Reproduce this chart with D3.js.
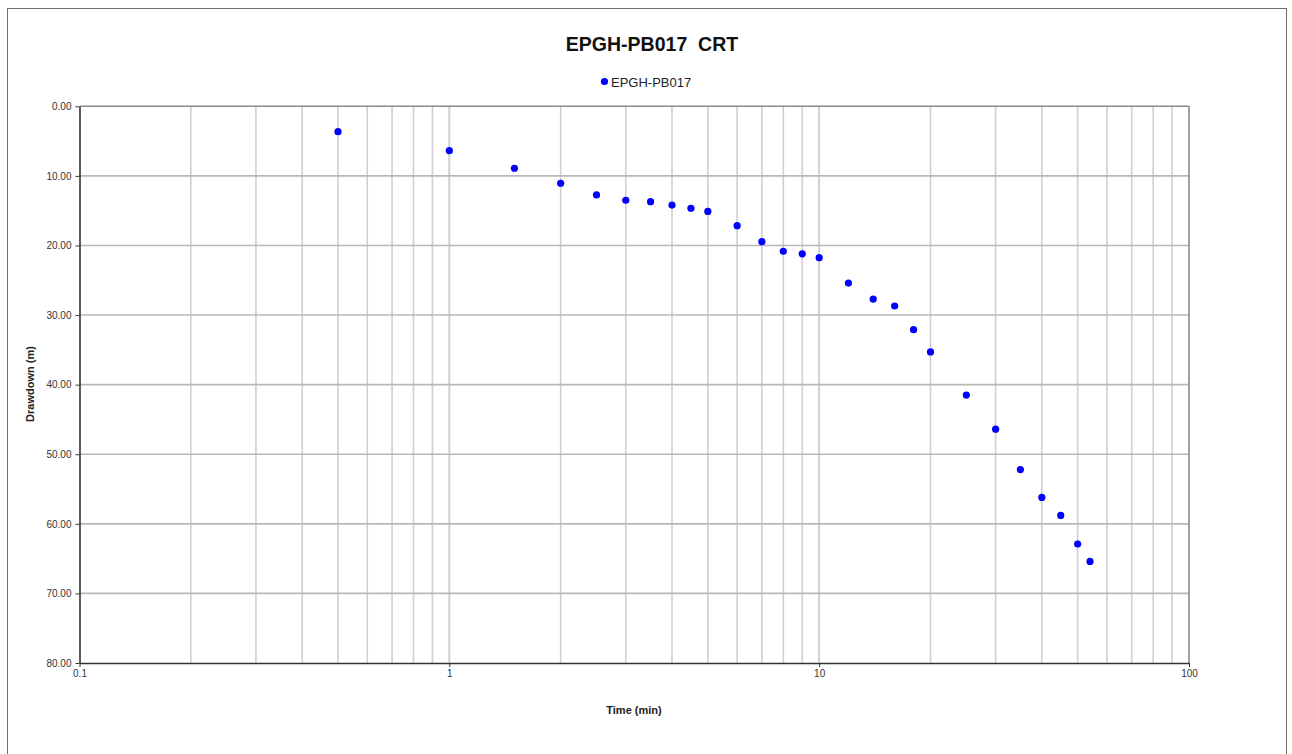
<!DOCTYPE html>
<html>
<head>
<meta charset="utf-8">
<script src="https://cdn.jsdelivr.net/npm/d3@7"></script>
<style>
  html, body { margin: 0; padding: 0; background: #fff; }
  svg { display: block; font-family: "Liberation Sans", Arial, sans-serif; }
</style>
</head>
<body>
<svg id="chart" width="1292" height="754"></svg>
<script>
// Constant-rate test drawdown record for EPGH-PB017
const timeMin = [0.5, 1, 1.5, 2, 2.5, 3, 3.5, 4, 4.5, 5, 6, 7, 8, 9, 10,
                 12, 14, 16, 18, 20, 25, 30, 35, 40, 45, 50, 54];
const drawdownM = [3.65, 6.38, 8.9, 11.06, 12.74, 13.5, 13.7, 14.2, 14.65, 15.1, 17.15, 19.45, 20.83, 21.2, 21.75,
                   25.4, 27.7, 28.7, 32.1, 35.3, 41.5, 46.4, 52.2, 56.2, 58.8, 62.9, 65.4];
const xTickLabels = [0.1, 1, 10, 100];
const yTickLabels = [0, 10, 20, 30, 40, 50, 60, 70, 80];
const seriesName = "EPGH-PB017";
const chartTitle = "EPGH-PB017  CRT";

const svg = d3.select("#chart");
const plot = { left: 79.5, top: 106.3, right: 1189, bottom: 663 };

// outer frame
svg.append("rect")
  .attr("x", 7.5).attr("y", 8.5).attr("width", 1279).attr("height", 750)
  .attr("fill", "none").attr("stroke", "#6e6e6e").attr("stroke-width", 1);

const x = d3.scaleLog().domain([0.1, 100]).range([plot.left, plot.right]);
const y = d3.scaleLinear().domain([0, 80]).range([plot.top, plot.bottom]);

// vertical grid at every minor log step
const minor = [];
for (let d = 0.1; d < 100; d *= 10) {
  for (let k = 1; k <= 10; k++) minor.push(+(d * k).toPrecision(3));
}
svg.append("g").selectAll("line").data(minor.filter(v => v > 0.1 && v < 100)).join("line")
  .attr("x1", d => x(d)).attr("x2", d => x(d))
  .attr("y1", plot.top).attr("y2", plot.bottom)
  .attr("stroke", "#cfcfcf").attr("stroke-width", 1.6);

// horizontal grid
svg.append("g").selectAll("line").data(yTickLabels.filter(v => v > 0 && v < 80)).join("line")
  .attr("x1", plot.left).attr("x2", plot.right)
  .attr("y1", d => y(d)).attr("y2", d => y(d))
  .attr("stroke", "#b8b8b8").attr("stroke-width", 1.6);

// plot frame: top and right in grey, axes in near black
svg.append("line").attr("x1", plot.left).attr("x2", plot.right).attr("y1", plot.top).attr("y2", plot.top)
  .attr("stroke", "#8a8a8a").attr("stroke-width", 1.6);
svg.append("line").attr("x1", plot.right).attr("x2", plot.right).attr("y1", plot.top).attr("y2", plot.bottom)
  .attr("stroke", "#8a8a8a").attr("stroke-width", 1.6);

// y axis
const yAxis = d3.axisLeft(y).tickValues(yTickLabels).tickFormat(d3.format(".2f")).tickSize(4).tickSizeOuter(0);
const gy = svg.append("g").attr("transform", `translate(${plot.left},0)`).call(yAxis);
gy.select(".domain").attr("stroke", "#333").attr("stroke-width", 1.6);
gy.selectAll(".tick line").attr("stroke", "#333");
gy.selectAll(".tick text").attr("fill", "#333").attr("font-size", 10).attr("x", -8);

// x axis
const xAxis = d3.axisBottom(x).tickValues(xTickLabels).tickFormat(d => String(d)).tickSize(4).tickSizeOuter(0);
const gx = svg.append("g").attr("transform", `translate(0,${plot.bottom})`).call(xAxis);
gx.select(".domain").attr("stroke", "#333").attr("stroke-width", 1.6);
gx.selectAll(".tick line").attr("stroke", "#333");
gx.selectAll(".tick text").attr("fill", "#333").attr("font-size", 10).attr("y", 7);

// data points
svg.append("g").selectAll("circle").data(timeMin.map((t, i) => [t, drawdownM[i]])).join("circle")
  .attr("cx", d => x(d[0])).attr("cy", d => y(d[1])).attr("r", 3.6)
  .attr("fill", "#0000ff");

// title
svg.append("text").attr("x", 652).attr("y", 50.5).attr("text-anchor", "middle")
  .attr("font-size", 19.5).attr("font-weight", "bold").attr("fill", "#111")
  .attr("xml:space", "preserve").style("white-space", "pre").text(chartTitle);

// legend
svg.append("circle").attr("cx", 604.5).attr("cy", 81.5).attr("r", 3.6).attr("fill", "#0000ff");
svg.append("text").attr("x", 611).attr("y", 86.5).attr("font-size", 13).attr("fill", "#222").text(seriesName);

// axis titles
svg.append("text").attr("x", 634).attr("y", 714).attr("text-anchor", "middle")
  .attr("font-size", 11).attr("font-weight", "bold").attr("fill", "#222").text("Time (min)");
svg.append("text").attr("transform", "translate(34,384) rotate(-90)").attr("text-anchor", "middle")
  .attr("font-size", 11).attr("font-weight", "bold").attr("fill", "#222").text("Drawdown (m)");
</script>
</body>
</html>
